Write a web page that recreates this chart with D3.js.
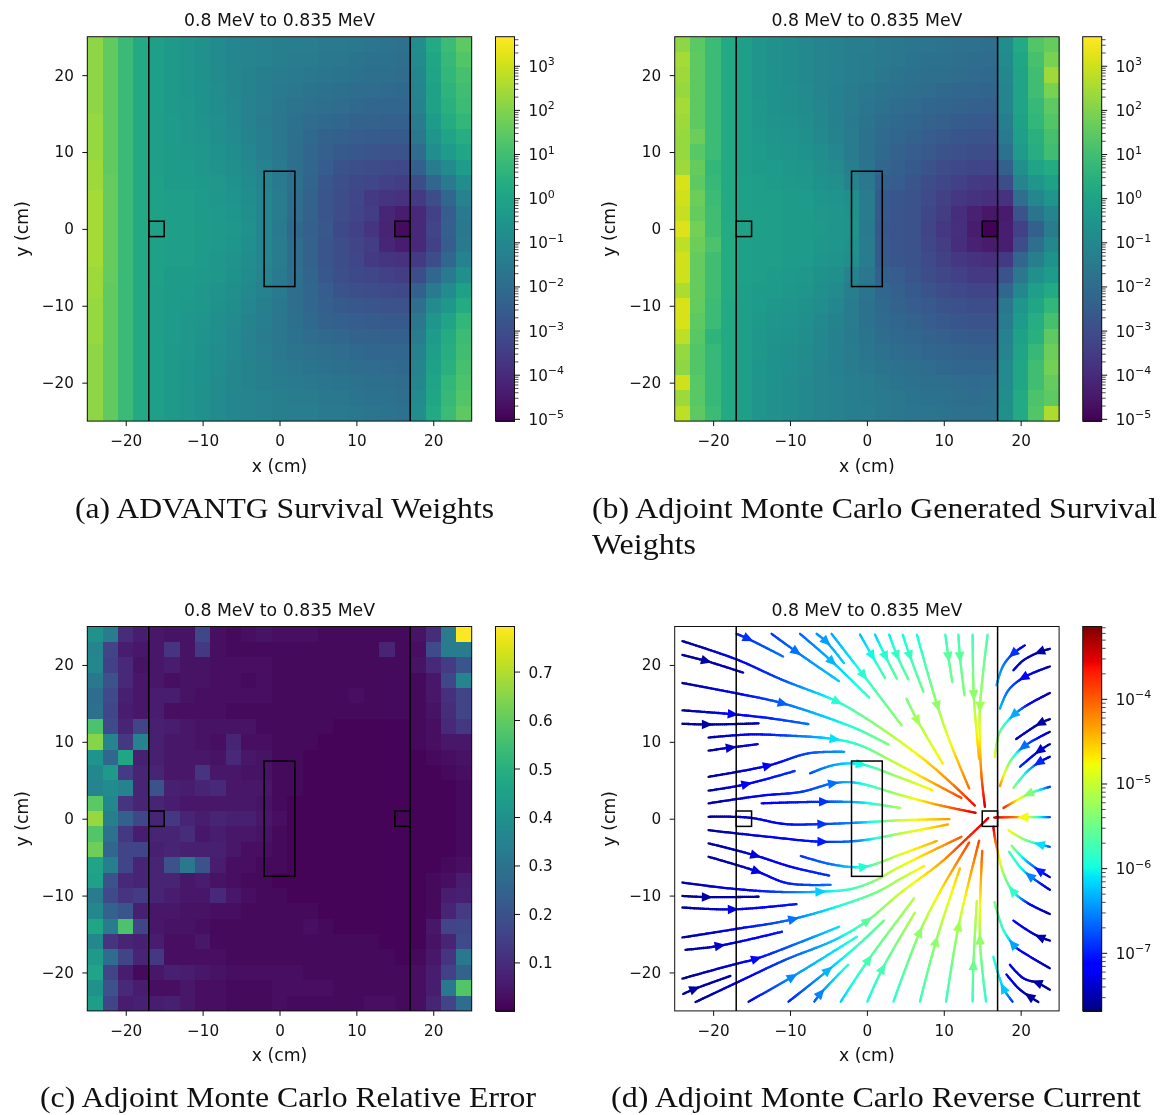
<!DOCTYPE html>
<html>
<head>
<meta charset="utf-8">
<script src="https://cdnjs.cloudflare.com/ajax/libs/d3/7.8.5/d3.min.js"></script>
<style>
  html, body { margin: 0; padding: 0; background: #fff; }
  svg { display: block; filter: blur(0.5px); }
  text { font-family: "DejaVu Sans", sans-serif; fill: #111; }
  .caption { font-family: "Liberation Serif", serif; font-size: 30px; fill: #111; }
</style>
</head>
<body>
<div id="chart"></div>
<script>
// log10 survival weight, rows run top (y=24) to bottom (y=-24), columns x=-24 to x=24
var survivalA = [
  [2.2,1.55,.85,.2,-.16,-.34,-.51,-.68,-.86,-1.03,-1.12,-1.2,-1.3,-1.38,-1.38,-1.47,-1.47,-1.56,-1.64,-1.73,-1.82,-.8,.2,.9,1.5],
  [2.2,1.55,.85,.2,-.16,-.34,-.51,-.68,-.86,-1.03,-1.12,-1.2,-1.3,-1.4,-1.45,-1.55,-1.6,-1.7,-1.75,-1.8,-1.9,-.9,.1,.8,1.3],
  [2.2,1.55,.85,.2,-.16,-.34,-.5,-.65,-.85,-1,-1.15,-1.3,-1.4,-1.5,-1.55,-1.65,-1.7,-1.8,-1.85,-1.9,-2,-1,0,.7,1.1],
  [2.2,1.55,.85,.2,-.16,-.34,-.45,-.65,-.8,-1,-1.15,-1.3,-1.5,-1.6,-1.7,-1.8,-1.85,-1.95,-2,-2.05,-2.1,-1.1,-.1,.6,1],
  [2.2,1.55,.85,.2,-.16,-.34,-.42,-.6,-.77,-.95,-1.2,-1.38,-1.56,-1.73,-1.82,-1.9,-2,-2.08,-2.17,-2.17,-2.17,-1.2,-.1,.5,.9],
  [2.3,1.55,.85,.2,-.16,-.3,-.4,-.55,-.75,-.95,-1.2,-1.4,-1.6,-1.8,-2,-2.1,-2.2,-2.3,-2.35,-2.4,-2.4,-1.4,-.3,.3,.7],
  [2.3,1.55,.85,.2,-.16,-.3,-.38,-.5,-.7,-.9,-1.15,-1.35,-1.6,-1.85,-2.1,-2.3,-2.4,-2.5,-2.55,-2.6,-2.6,-1.6,-.5,0,.4],
  [2.3,1.55,.85,.2,-.16,-.25,-.34,-.42,-.6,-.77,-1.03,-1.3,-1.56,-1.9,-2.17,-2.43,-2.6,-2.69,-2.78,-2.86,-2.86,-2,-.8,-.3,.1],
  [2.4,1.55,.85,.2,-.15,-.25,-.3,-.42,-.55,-.7,-.95,-1.2,-1.5,-1.9,-2.2,-2.5,-2.8,-2.95,-3.05,-3.1,-3.15,-2.4,-1.4,-.9,-.3],
  [2.4,1.6,.85,.2,-.07,-.25,-.25,-.34,-.42,-.6,-.86,-1.12,-1.47,-1.9,-2.25,-2.69,-2.95,-3.12,-3.2,-3.4,-3.48,-3,-2.2,-1.5,-.8],
  [2.5,1.6,.85,.2,-.07,-.2,-.2,-.3,-.4,-.55,-.8,-1.05,-1.45,-1.95,-2.3,-2.75,-3,-3.2,-3.6,-3.7,-3.8,-3.6,-3,-2.2,-1.2],
  [2.5,1.6,.85,.2,-.07,-.2,-.2,-.25,-.35,-.45,-.75,-1.05,-1.45,-2,-2.35,-2.75,-3.05,-3.3,-3.5,-4.1,-4.35,-4.05,-3.4,-2.5,-1.5],
  [2.5,1.6,.85,.2,-.07,-.16,-.16,-.25,-.34,-.42,-.68,-1.03,-1.47,-2.08,-2.43,-2.69,-3.12,-3.4,-3.73,-4.17,-4.78,-4.08,-3.3,-2.43,-1.56],
  [2.5,1.6,.85,.2,-.07,-.2,-.2,-.25,-.35,-.45,-.75,-1.05,-1.45,-2,-2.35,-2.75,-3.05,-3.3,-3.5,-4.1,-4.35,-4.05,-3.4,-2.5,-1.5],
  [2.5,1.6,.85,.2,-.07,-.2,-.2,-.3,-.4,-.55,-.8,-1.05,-1.45,-1.95,-2.3,-2.75,-3,-3.2,-3.6,-3.7,-3.8,-3.6,-3,-2.2,-1.2],
  [2.4,1.6,.85,.2,-.07,-.25,-.25,-.34,-.42,-.6,-.86,-1.12,-1.47,-1.9,-2.25,-2.69,-2.95,-3.12,-3.2,-3.4,-3.48,-3,-2.2,-1.5,-.7],
  [2.4,1.55,.85,.2,-.15,-.25,-.3,-.42,-.55,-.7,-.95,-1.2,-1.5,-1.9,-2.2,-2.5,-2.8,-2.95,-3.05,-3.1,-3.15,-2.4,-1.5,-.9,-.1],
  [2.3,1.55,.85,.2,-.16,-.25,-.34,-.42,-.6,-.77,-1.03,-1.3,-1.56,-1.9,-2.17,-2.43,-2.6,-2.69,-2.78,-2.86,-2.86,-1.9,-.9,-.4,.3],
  [2.3,1.55,.85,.2,-.16,-.3,-.38,-.5,-.7,-.9,-1.15,-1.35,-1.6,-1.85,-2.1,-2.3,-2.4,-2.5,-2.55,-2.6,-2.6,-1.6,-.5,0,.7],
  [2.3,1.55,.85,.2,-.16,-.3,-.4,-.55,-.75,-.95,-1.2,-1.4,-1.6,-1.8,-2,-2.1,-2.2,-2.3,-2.35,-2.4,-2.4,-1.4,-.3,.3,.9],
  [2.2,1.55,.85,.2,-.16,-.34,-.42,-.6,-.77,-.95,-1.2,-1.38,-1.56,-1.73,-1.82,-1.9,-2,-2.08,-2.17,-2.17,-2.17,-1.2,-.2,.4,1],
  [2.2,1.55,.85,.2,-.16,-.34,-.45,-.65,-.8,-1,-1.15,-1.3,-1.5,-1.6,-1.7,-1.8,-1.85,-1.95,-2,-2.05,-2.1,-1.1,-.1,.5,1.1],
  [2.2,1.55,.85,.2,-.16,-.34,-.5,-.65,-.85,-1,-1.15,-1.3,-1.4,-1.5,-1.55,-1.65,-1.7,-1.8,-1.85,-1.9,-2,-1,0,.7,1.2],
  [2.2,1.55,.85,.2,-.16,-.34,-.51,-.68,-.86,-1.03,-1.12,-1.2,-1.3,-1.4,-1.45,-1.55,-1.6,-1.7,-1.75,-1.8,-1.9,-.9,.1,.8,1.3],
  [2.2,1.55,.85,.2,-.16,-.34,-.51,-.68,-.86,-1.03,-1.12,-1.2,-1.3,-1.38,-1.38,-1.47,-1.47,-1.56,-1.64,-1.73,-1.82,-.8,.2,.9,1.5]
];

var survivalB = [
  [2.2,1.45,.9,.2,-.16,-.5,-.68,-.77,-.95,-1.12,-1.2,-1.3,-1.38,-1.47,-1.56,-1.64,-1.64,-1.73,-1.82,-1.82,-1.9,-.8,.2,1.3,1.6],
  [2.5,1.5,.9,.2,-.16,-.5,-.68,-.77,-.95,-1.12,-1.2,-1.3,-1.4,-1.5,-1.6,-1.7,-1.75,-1.8,-1.9,-1.95,-2,-.9,.1,1.1,1.9],
  [2.4,1.5,.9,.2,-.16,-.5,-.65,-.77,-.95,-1.1,-1.2,-1.35,-1.45,-1.6,-1.7,-1.8,-1.85,-1.9,-2,-2.05,-2.1,-1,0,1,2.4],
  [2.3,1.5,.9,.2,-.16,-.45,-.6,-.75,-.9,-1.1,-1.25,-1.4,-1.55,-1.7,-1.8,-1.9,-2,-2.1,-2.15,-2.2,-2.25,-1.1,0,1,1.9],
  [2.5,1.5,.9,.2,-.16,-.42,-.6,-.7,-.85,-1.05,-1.25,-1.45,-1.65,-1.8,-1.95,-2.05,-2.15,-2.25,-2.3,-2.4,-2.45,-1.1,0,.8,1.5],
  [2.4,1.5,.9,.2,-.16,-.4,-.55,-.65,-.8,-1,-1.25,-1.5,-1.7,-1.95,-2.1,-2.2,-2.35,-2.45,-2.55,-2.6,-2.65,-1.3,-.1,.7,1.3],
  [2.3,1.7,.9,.2,-.16,-.35,-.5,-.55,-.7,-.95,-1.15,-1.45,-1.75,-2.05,-2.2,-2.35,-2.5,-2.65,-2.7,-2.8,-2.85,-1.5,-.2,.5,1.1],
  [2.3,1.4,.9,.2,-.16,-.3,-.4,-.5,-.6,-.8,-1.05,-1.4,-1.75,-2.1,-2.3,-2.5,-2.65,-2.8,-2.9,-3,-3.05,-1.8,-.3,.4,1],
  [2.4,1.6,.7,.2,-.15,-.25,-.3,-.42,-.5,-.7,-.9,-1.3,-1.7,-2.2,-2.4,-2.6,-2.8,-3.05,-3.15,-3.25,-3.3,-2.4,-.7,0,.3],
  [3.15,1.5,.8,.2,-.1,-.2,-.25,-.34,-.4,-.6,-.7,-1.2,-1.6,-2.4,-2.5,-2.75,-3,-3.2,-3.4,-3.55,-3.65,-3,-1.1,-.5,-.1],
  [3.05,1.7,.9,.2,-.07,-.2,-.2,-.25,-.3,-.45,-.55,-.7,-1.45,-2.6,-2.7,-2.8,-3.1,-3.35,-3.65,-3.75,-3.85,-3.8,-1.9,-1,-.5],
  [2.9,1.6,1,.2,-.07,-.16,-.16,-.25,-.25,-.4,-.5,-.6,-1.45,-2.65,-2.75,-2.85,-3.2,-3.5,-3.9,-4.25,-4.5,-4.4,-2.8,-1.7,-1.1],
  [3.2,1.8,1,.3,-.07,-.16,-.16,-.25,-.25,-.34,-.51,-.55,-1.47,-2.69,-2.78,-2.86,-3.3,-3.65,-3.82,-4.35,-5,-4.3,-3.4,-2.4,-1.4],
  [2.8,1.7,1.2,.3,-.07,-.16,-.16,-.25,-.25,-.4,-.5,-.6,-1.45,-2.65,-2.75,-2.85,-3.2,-3.5,-3.9,-4.25,-4.4,-4.3,-3,-1.9,-1],
  [3.05,1.6,1,.3,-.07,-.2,-.2,-.25,-.3,-.45,-.55,-.7,-1.45,-2.6,-2.7,-2.8,-3.1,-3.35,-3.65,-3.75,-3.85,-3.6,-2.2,-1.3,-.6],
  [3,1.6,1,.3,-.1,-.2,-.25,-.34,-.4,-.6,-.7,-1.2,-1.6,-2.4,-2.5,-2.75,-3,-3.2,-3.4,-3.55,-3.6,-2.8,-1.6,-.7,-.3],
  [2.6,1.6,1,.3,-.15,-.25,-.3,-.42,-.5,-.7,-.9,-1.3,-1.7,-2.2,-2.4,-2.6,-2.8,-3.05,-3.15,-3.25,-3.3,-2.2,-1,-.2,.2],
  [3.15,1.6,.9,.2,-.16,-.3,-.4,-.5,-.6,-.8,-1.05,-1.4,-1.75,-2.1,-2.3,-2.5,-2.65,-2.8,-2.9,-3,-3,-1.6,-.5,.1,.7],
  [3.15,1.5,.9,.2,-.16,-.35,-.5,-.55,-.7,-.95,-1.15,-1.45,-1.75,-2.05,-2.2,-2.35,-2.5,-2.65,-2.7,-2.8,-2.8,-1.4,-.3,.4,1.1],
  [2.8,1.4,.6,.2,-.16,-.4,-.55,-.65,-.8,-1,-1.25,-1.5,-1.7,-1.95,-2.1,-2.2,-2.35,-2.45,-2.55,-2.6,-2.6,-1.2,-.1,.5,1.5],
  [2.3,1.3,.8,.2,-.16,-.42,-.6,-.7,-.85,-1.05,-1.25,-1.45,-1.65,-1.8,-1.95,-2.05,-2.15,-2.25,-2.3,-2.4,-2.4,-1.1,0,.8,1.7],
  [2.2,1.3,.8,.2,-.16,-.45,-.6,-.75,-.9,-1.1,-1.25,-1.4,-1.55,-1.7,-1.8,-1.9,-2,-2.1,-2.15,-2.2,-2.2,-.9,.1,1,1.8],
  [3.05,1.4,.8,.2,-.16,-.5,-.65,-.77,-.95,-1.1,-1.2,-1.35,-1.45,-1.6,-1.7,-1.8,-1.85,-1.9,-2,-2.05,-2,-.9,.1,1,1.6],
  [2.4,1.4,.8,.2,-.16,-.5,-.68,-.77,-.95,-1.12,-1.2,-1.3,-1.4,-1.5,-1.6,-1.7,-1.75,-1.8,-1.9,-1.95,-1.9,-.8,.2,1.2,1.5],
  [2.8,1.5,.9,.2,-.16,-.5,-.68,-.77,-.95,-1.12,-1.2,-1.3,-1.38,-1.47,-1.56,-1.64,-1.64,-1.73,-1.82,-1.82,-1.8,-.7,.2,1.3,2.6]
];

// relative error, same grid
var relError = [
  [.40,.33,.10,.06,.05,.04,.04,.17,.03,.02,.03,.04,.03,.03,.03,.02,.02,.02,.02,.02,.02,.04,.10,.33,.79],
  [.36,.16,.06,.05,.05,.12,.04,.13,.03,.02,.02,.02,.02,.02,.02,.02,.02,.02,.02,.08,.02,.03,.18,.33,.33],
  [.37,.15,.09,.04,.05,.06,.04,.04,.03,.03,.03,.03,.02,.02,.02,.02,.02,.02,.02,.02,.02,.04,.09,.14,.21],
  [.32,.20,.09,.05,.05,.03,.04,.04,.03,.03,.02,.03,.02,.02,.02,.02,.02,.02,.02,.02,.02,.02,.05,.17,.36],
  [.28,.18,.07,.05,.06,.06,.04,.03,.03,.03,.03,.03,.02,.02,.02,.02,.02,.03,.02,.02,.02,.02,.05,.11,.16],
  [.29,.17,.06,.05,.06,.03,.03,.03,.03,.02,.02,.02,.02,.02,.02,.02,.02,.02,.02,.02,.02,.02,.04,.10,.16],
  [.57,.18,.08,.16,.07,.06,.05,.04,.04,.04,.04,.02,.02,.02,.02,.02,.01,.01,.01,.01,.01,.02,.03,.09,.13],
  [.65,.36,.13,.35,.07,.05,.05,.04,.03,.08,.03,.03,.02,.02,.02,.01,.01,.01,.01,.01,.01,.02,.03,.05,.05],
  [.41,.26,.47,.07,.07,.05,.05,.05,.04,.09,.05,.04,.02,.02,.01,.01,.01,.01,.01,.01,.01,.01,.02,.03,.04],
  [.37,.43,.14,.08,.08,.05,.05,.12,.05,.05,.04,.04,.02,.02,.01,.01,.01,.01,.01,.01,.01,.01,.01,.02,.03],
  [.36,.38,.35,.08,.20,.07,.06,.08,.09,.05,.05,.05,.02,.02,.01,.01,.01,.01,.01,.01,.01,.01,.01,.01,.02],
  [.59,.37,.12,.08,.08,.06,.05,.05,.05,.05,.05,.04,.02,.01,.01,.01,.01,.01,.01,.01,.01,.01,.01,.01,.02],
  [.67,.34,.24,.17,.08,.13,.08,.06,.08,.07,.07,.05,.03,.01,.01,.01,.01,.01,.01,.01,.01,.01,.01,.01,.02],
  [.58,.30,.13,.06,.08,.08,.10,.05,.06,.05,.05,.04,.02,.01,.01,.01,.01,.01,.01,.01,.01,.01,.01,.01,.02],
  [.62,.26,.16,.16,.07,.08,.07,.07,.07,.05,.03,.03,.02,.01,.01,.01,.01,.01,.01,.01,.01,.01,.01,.01,.02],
  [.46,.34,.16,.08,.08,.20,.32,.20,.06,.03,.03,.02,.02,.01,.01,.01,.01,.01,.01,.01,.01,.01,.01,.02,.03],
  [.45,.20,.09,.08,.08,.08,.05,.06,.04,.03,.02,.02,.01,.01,.01,.01,.01,.01,.01,.01,.01,.01,.02,.03,.06],
  [.33,.18,.12,.14,.08,.06,.05,.05,.09,.05,.03,.02,.02,.01,.01,.01,.01,.01,.01,.01,.01,.01,.02,.06,.07],
  [.37,.25,.21,.07,.05,.05,.04,.04,.03,.03,.02,.02,.02,.02,.02,.01,.01,.01,.01,.01,.01,.01,.02,.08,.14],
  [.47,.33,.57,.16,.05,.04,.04,.03,.02,.02,.02,.02,.02,.02,.03,.02,.01,.01,.01,.01,.01,.01,.05,.16,.17],
  [.37,.12,.08,.07,.06,.03,.03,.05,.02,.02,.02,.02,.02,.02,.02,.02,.02,.02,.02,.01,.01,.01,.04,.08,.18],
  [.43,.28,.16,.08,.13,.03,.03,.03,.03,.02,.02,.02,.02,.02,.02,.02,.02,.02,.02,.02,.01,.02,.05,.12,.32],
  [.46,.16,.06,.02,.05,.07,.06,.05,.04,.03,.03,.03,.03,.03,.02,.02,.02,.02,.02,.02,.02,.03,.06,.15,.25],
  [.40,.20,.09,.06,.03,.03,.05,.03,.03,.02,.02,.02,.03,.03,.03,.03,.02,.02,.02,.02,.02,.03,.06,.32,.58],
  [.44,.16,.06,.07,.06,.07,.05,.03,.03,.02,.02,.02,.03,.02,.02,.02,.02,.02,.03,.03,.02,.03,.08,.16,.28]
];

// reverse current stream lines, each point is [x, y, log10 magnitude]
var streamLines = [
  [[-24,23.1,-7.6],[-16.9,20.7,-7.2],[-11.1,18.1,-6.8],[-4,15.3,-5.9],[-.9,13.55,-5.6],[3.45,10.65,-5.1],[7.8,7.4,-4.6],[11,4.6,-4.2],[14.05,1.7,-3.6]],
  [[-24,21.3,-7.6],[-20.85,20.5,-7.55],[-16.1,19,-7.4]],
  [[-24,17.65,-7.6],[-17.15,16.35,-7.2],[-11.1,15.05,-6.7],[-4.2,12.8,-6.1],[-.9,11.5,-5.8],[2.8,9.65,-5.4]],
  [[-24,14.1,-7.6],[-17.6,13.6,-7.2],[-12.85,13.1,-7],[-7.6,12.3,-6.6]],
  [[-24,12.35,-7.6],[-20.85,12.25,-7.55],[-14.1,12.4,-7.5]],
  [[-20.6,10.55,-7.55],[-15.4,10.95,-7.2],[-11.1,10.85,-6.9],[-4.2,10.35,-6.1],[-.9,9.55,-5.8],[3.45,7.4,-5.1],[7.95,5,-4.5],[12.3,2.7,-3.9]],
  [[-20.6,8.85,-7.6],[-17.8,9.25,-7.4],[-14.2,9.7,-7.3]],
  [[-20.6,5.45,-7.6],[-12.85,6.9,-7.2],[-7.6,8.5,-6.8],[-2.95,8.7,-6.4]],
  [[-20.6,3.65,-7.6],[-15.85,4.45,-7.2],[-9.4,6.2,-6.9]],
  [[-7.4,5.9,-6.8],[-4.2,7,-6.4],[-.9,7.1,-6],[4.05,5.45,-5.2],[8.55,3.7,-4.7]],
  [[-20.6,2,-7.6],[-13.7,3,-7.2],[-8.5,3.5,-6.9],[-4.4,4.6,-6.6],[-1.6,4.7,-6.2],[4.5,3.05,-5.1],[8.8,1.9,-4.4],[14.15,.77,-3.5]],
  [[-13.7,2,-7.2],[-5.7,2.2,-6.9],[-.7,2.1,-6.2],[4.3,1.4,-5.2]],
  [[-20.6,.25,-7.6],[-15.4,.15,-7.4],[-10.65,-.7,-7.1],[-5.9,-.7,-6.9],[-.9,-.5,-6.4],[4.5,-.2,-5],[10.75,-.05,-4.3]],
  [[-20.6,-1.5,-7.6],[-12.85,-2.35,-7.2],[-5.9,-3,-7],[-.9,-2.85,-6.5],[4.5,-1.9,-5.1],[10.55,-.75,-4.35]],
  [[-20.6,-3.2,-7.6],[-14.45,-4.8,-7.3],[-9.9,-6.25,-7.1],[-4.9,-7.4,-6.9]],
  [[-20.6,-4.95,-7.6],[-14.45,-6.8,-7.3],[-10.3,-8.4,-7],[-4.7,-8.6,-6.6]],
  [[-8.6,-4.85,-6.9],[-4.25,-6,-6.6],[-.35,-6.25,-5.9],[4.5,-4.6,-4.9],[9.1,-2.9,-4.4]],
  [[-24,-8.3,-7.6],[-18.55,-9,-7.3],[-12.05,-9.5,-6.9],[-6.2,-9.5,-6.2],[-2.1,-9.15,-5.8],[.95,-8.1,-5.4],[3.45,-6.7,-5],[6.5,-5.15,-4.7],[12.3,-2.35,-4]],
  [[-24,-10.05,-7.6],[-20.85,-10.2,-7.55],[-14.1,-10.15,-7.5]],
  [[-24,-11.55,-7.6],[-17.4,-11.8,-7.3],[-9.15,-11.1,-7]],
  [[-23.6,-17.05,-7.6],[-19.3,-16.55,-7.4],[-11.05,-14.7,-7]],
  [[-24,-15.45,-7.6],[-17.1,-14.35,-7.2],[-9.55,-13.05,-6.6],[.95,-9.7,-5.5],[4.5,-7.75,-5.1],[7.45,-6.15,-4.7]],
  [[-24,-20.8,-7.6],[-17.1,-18.9,-7.3],[-14.5,-18.25,-7.1],[-8.5,-16,-6.6],[-3.6,-14.05,-6.1]],
  [[-23.9,-22.8,-7.6],[-22.55,-22.2,-7.55],[-17.75,-20.45,-7.5]],
  [[-22.3,-23.85,-7.6],[-17.1,-21.4,-7.3],[-10.6,-18.35,-6.8],[-4.15,-15.75,-6.2],[0,-13.3,-5.6],[4.3,-9.7,-5],[9.5,-5.8,-4.4],[12.55,-3,-3.8],[15.8,.1,-3.5]],
  [[-15.4,-23.8,-7.2],[-9.85,-20.65,-6.5],[-1.3,-15.35,-5.9]],
  [[-10.2,-23.8,-7],[-5.1,-19.75,-6.3],[-.9,-16.2,-5.8],[2.2,-13.25,-5.5]],
  [[-6.85,-23.8,-6.8],[-6,-22.7,-6.5],[-2.45,-19,-5.9]],
  [[-3.4,-23.8,-6.2],[.2,-18.35,-5.7],[6.15,-10.35,-5.1]],
  [[.05,-23.8,-6],[2.05,-19.45,-5.7],[6.25,-12.2,-5.1]],
  [[3.45,-23.8,-5.9],[6.9,-14.7,-5.3],[9.5,-9.5,-4.7],[13.3,-3.1,-3.9]],
  [[6.9,-23.8,-5.8],[9,-15.9,-5.3],[12.1,-6.45,-4.5]],
  [[10.3,-23.8,-5.8],[11.9,-14.1,-5.2],[14.6,-2.85,-3.9]],
  [[13.75,-23.8,-5.8],[13.85,-19,-5.5],[14.3,-10.7,-5]],
  [[15.5,-23.8,-5.9],[14.7,-15.8,-5.3],[15,-4.2,-4]],
  [[23.8,-12.4,-7.6],[20.8,-10.9,-7.1],[18.95,-9.4,-5.8],[17.75,-7.1,-5.3],[17.1,-4.7,-4.7],[16.65,-2.55,-4],[16.45,-1.05,-3.5]],
  [[23.8,-19.45,-7.6],[19.5,-16.85,-7.1],[19.05,-16.4,-6.4],[17.75,-14.45,-5.9],[16.6,-10.85,-5.4]],
  [[18.95,-23.8,-7],[17.75,-22.05,-6.2],[16.45,-17.95,-5.9]],
  [[23.8,-15.85,-7.6],[22.5,-15.4,-7.5],[20.8,-14.45,-7.3],[19.05,-13.25,-7.1]],
  [[23.8,-22.25,-7.6],[22.3,-21.4,-7.55],[20.35,-20.75,-7.4],[18.6,-19,-7.2]],
  [[22.3,-23.85,-7.6],[21.2,-23.15,-7.55],[19.7,-22.05,-7.4],[18.15,-20.25,-7.2]],
  [[23.8,-9.25,-7.6],[21.2,-7.45,-6.5],[19.9,-6.25,-6],[18.5,-4.3,-5.7]],
  [[23.8,-7.6,-7.6],[22.5,-6.8,-7],[20.35,-5.15,-6.2],[18.8,-3.5,-5.4]],
  [[23.8,-3.65,-6.9],[22.5,-3.35,-6.1],[20.35,-2.65,-5.4],[18.4,-1.5,-4.8]],
  [[23.8,.2,-6.9],[22.2,.2,-6],[20.5,.2,-4.8],[19,.2,-4.1],[16.55,.15,-3.5]],
  [[20.55,22.55,-7.4],[19.05,21.5,-6.9],[17.75,19.95,-6.6],[16.85,17.35,-6.2]],
  [[23.8,22.1,-7.6],[22.5,21.7,-7.55],[20.35,20.6,-7.4],[19.05,19.3,-7.3]],
  [[23.8,19.8,-7.6],[20.35,18.35,-7.1],[18.4,16.7,-6.7],[17.3,14.3,-6.3]],
  [[23.8,16.35,-7.6],[20.8,14.75,-7.1],[19.05,13.45,-6.3],[17.3,11.3,-5.6],[16.65,8.05,-4.9]],
  [[23.8,12.95,-7.6],[22.5,12.4,-7.55],[19.4,10.35,-7.4]],
  [[23.8,11.3,-7.6],[20.35,9.35,-6.6],[18.6,7.4,-5.5],[17.3,4.25,-4.3]],
  [[23.8,9.7,-7.6],[22.5,8.9,-7.4],[19.9,6.75,-6.9]],
  [[23.8,8.05,-7.6],[22.5,7.4,-7],[20.8,6.1,-6.2],[19.05,4,-5.4]],
  [[23.8,4.15,-7],[21.2,3.3,-5.4],[19.5,2.4,-4.8],[17.75,1.4,-3.8]],
  [[10.2,23.95,-5.8],[10.6,21.05,-5.6],[11.1,17.8,-5.5]],
  [[11.9,23.95,-5.8],[12.1,21.05,-5.6],[12.7,16.05,-5.4]],
  [[13.75,23.95,-5.8],[13.9,16.05,-5.3],[14.6,7.8,-4.4]],
  [[15.7,23.95,-5.7],[14.7,14.55,-5.2],[14.7,10,-4.7],[14.9,5.65,-4.1],[15.35,1.55,-3.5]],
  [[6.5,23.95,-6],[9.15,14.75,-5.3],[10.8,10,-4.8],[13.3,3.95,-4.1]],
  [[5.15,15.6,-5.5],[6.5,12.9,-5.2],[9.85,7.2,-4.7]],
  [[-4.6,24.05,-6.4],[-.5,18.75,-5.9],[4.5,12.15,-5.3]],
  [[-.9,23.95,-6.3],[.65,21.25,-6],[2.35,18.3,-5.7]],
  [[1.05,23.95,-6.2],[2.35,21.25,-5.9],[3.9,18.2,-5.6]],
  [[2.9,23.95,-6.1],[3.95,21.15,-5.8],[5.4,18.1,-5.6]],
  [[4.65,23.95,-6],[5.6,21.15,-5.8],[7.35,16.5,-5.5]],
  [[-16.95,24.05,-7],[-15.45,23.4,-6.9],[-10.9,21.1,-6.6]],
  [[-12.4,24.05,-6.9],[-9.15,21.7,-6.6],[-3.65,17.9,-6.2]],
  [[-8.7,24.05,-6.7],[-4.6,20.5,-6.3],[.3,15.75,-5.8]],
  [[-6.55,24.05,-6.5],[-5.25,23,-6.4],[-3,20.25,-6.2]]
];

// arrow head location on each stream line, same order
var streamArrows = [
  [-4,15.3],[-20.85,20.5],[-11.1,15.05],[-17.6,13.6],[-20.85,12.25],[-4.2,10.35],[-17.8,9.25],[-12.85,6.9],[-15.85,4.45],[-.9,7.1],
  [-4.4,4.6],[-5.7,2.2],[-5.9,-.7],[-5.9,-3],[-14.45,-4.8],[-14.45,-6.8],[-.35,-6.25],[-6.2,-9.5],[-20.85,-10.2],[-17.4,-11.8],
  [-19.3,-16.55],[-9.55,-13.05],[-14.5,-18.25],[-22.55,-22.2],[0,-13.3],[-9.85,-20.65],[-5.1,-19.75],[-6,-22.7],[.2,-18.35],[2.05,-19.45],
  [6.9,-14.7],[9,-15.9],[11.9,-14.1],[13.85,-19],[14.7,-15.8],[18.95,-9.4],[19.05,-16.4],[17.75,-22.05],[22.5,-15.4],[22.3,-21.4],
  [21.2,-23.15],[21.2,-7.45],[22.5,-6.8],[22.5,-3.35],[20.5,.2],[19.05,21.5],[22.5,21.7],[20.35,18.35],[19.05,13.45],[22.5,12.4],
  [20.35,9.35],[22.5,8.9],[22.5,7.4],[21.2,3.3],[10.6,21.05],[12.1,21.05],[13.9,16.05],[14.7,14.55],[9.15,14.75],[6.5,12.9],
  [-.5,18.75],[.65,21.25],[2.35,21.25],[3.95,21.15],[5.6,21.15],[-15.45,23.4],[-9.15,21.7],[-4.6,20.5],[-5.25,23]
];

var axisTicks = [-20, -10, 0, 10, 20];
var logTicksA = [-5, -4, -3, -2, -1, 0, 1, 2, 3];
var logTicksD = [-7, -6, -5, -4];
var errorTicks = [.1, .2, .3, .4, .5, .6, .7];
var logDomainA = [-5.04, 3.67];
var logDomainD = [-7.68, -3.14];
var errorDomain = [.001, .794];
var gridCenters = d3.range(-24, 25, 2);

var wallXs = [-17, 17];
var detectorBoxes = [[-17, -1, 2, 2], [15, -1, 2, 2], [-2, -7.5, 4, 15]];

var titleText = "0.8 MeV to 0.835 MeV";
var captions = [
  {t: "(a) ADVANTG Survival Weights", x: 75, y: 518, w: 419},
  {t: "(b) Adjoint Monte Carlo Generated Survival", x: 592, y: 518, w: 565},
  {t: "Weights", x: 592, y: 554, w: 104},
  {t: "(c) Adjoint Monte Carlo Relative Error", x: 40, y: 1107, w: 496},
  {t: "(d) Adjoint Monte Carlo Reverse Current", x: 611, y: 1107, w: 530}
];

var size = 384.4;
var tickFont = "15.2px", labelFont = "17.3px";
var svg = d3.select("#chart").append("svg").attr("width", 1163).attr("height", 1115);

var x = d3.scaleLinear().domain([-25, 25]).range([0, size]);
var y = d3.scaleLinear().domain([-25, 25]).range([size, 0]);

// matplotlib jet
var jetR = d3.scaleLinear().domain([0, .35, .66, .89, 1]).range([0, 0, 1, 1, .5]).clamp(true);
var jetG = d3.scaleLinear().domain([0, .125, .375, .64, .91, 1]).range([0, 0, 1, 1, 0, 0]).clamp(true);
var jetB = d3.scaleLinear().domain([0, .11, .34, .65, 1]).range([.5, 1, 1, 0, 0]).clamp(true);
function jet(t) {
  return d3.rgb(jetR(t) * 255, jetG(t) * 255, jetB(t) * 255).formatRgb();
}

var colorA = d3.scaleSequential(d3.interpolateViridis).domain(logDomainA);
var colorC = d3.scaleSequential(d3.interpolateViridis).domain(errorDomain);
var colorD = d3.scaleSequential(jet).domain(logDomainD);

function makePanel(left, top) {
  return svg.append("g").attr("transform", "translate(" + left + "," + top + ")");
}

function drawHeat(g, rows, color) {
  var cell = x(2) - x(0);
  rows.forEach(function(row, r) {
    g.selectAll(null).data(row).enter().append("rect")
      .attr("x", function(d, i) { return x(gridCenters[i] - 1); })
      .attr("y", y(gridCenters[24 - r] + 1))
      .attr("width", cell + .4)
      .attr("height", cell + .4)
      .attr("fill", function(d) { return color(d); })
      .attr("shape-rendering", "crispEdges");
  });
}

function drawGeometry(g) {
  g.selectAll(null).data(wallXs).enter().append("line")
    .attr("x1", function(d) { return x(d); }).attr("x2", function(d) { return x(d); })
    .attr("y1", y(-25)).attr("y2", y(25))
    .attr("stroke", "#000").attr("stroke-width", 1.5);
  g.selectAll(null).data(detectorBoxes).enter().append("rect")
    .attr("x", function(d) { return x(d[0]); })
    .attr("y", function(d) { return y(d[1] + d[3]); })
    .attr("width", function(d) { return x(d[2]) - x(0); })
    .attr("height", function(d) { return y(0) - y(d[3]); })
    .attr("fill", "none")
    .attr("stroke", "#000")
    .attr("stroke-width", 1.5);
}

function drawAxes(g) {
  var xAxis = d3.axisBottom(x).tickValues(axisTicks).tickSize(5).tickPadding(9);
  var yAxis = d3.axisLeft(y).tickValues(axisTicks).tickSize(5).tickPadding(8.5);
  var gx = g.append("g").attr("transform", "translate(0," + size + ")").call(xAxis);
  var gy = g.append("g").call(yAxis);
  [gx, gy].forEach(function(a) {
    a.select(".domain").remove();
    a.selectAll("text").style("font-size", tickFont).style("font-family", '"DejaVu Sans"');
    a.selectAll("line").attr("stroke", "#111").attr("stroke-width", 1);
  });
  g.append("rect").attr("width", size).attr("height", size)
    .attr("fill", "none").attr("stroke", "#111").attr("stroke-width", 1);
  g.append("text").attr("x", size / 2).attr("y", -11).attr("text-anchor", "middle")
    .style("font-size", labelFont).text(titleText);
  g.append("text").attr("x", size / 2).attr("y", size + 50.5).attr("text-anchor", "middle")
    .style("font-size", labelFont).text("x (cm)");
  g.append("text").attr("transform", "translate(-59.5," + (size / 2) + ") rotate(-90)")
    .attr("text-anchor", "middle").style("font-size", labelFont).text("y (cm)");
}

function drawColorbar(left, top, domain, color, ticks, minor, labelFn) {
  var bar = svg.append("g").attr("transform", "translate(" + left + "," + top + ")");
  var barW = 19;
  var scale = d3.scaleLinear().domain(domain).range([size, 0]);
  bar.selectAll(null).data(d3.range(0, Math.ceil(size))).enter().append("rect")
    .attr("x", 0).attr("y", function(d) { return d; })
    .attr("width", barW).attr("height", 1.2)
    .attr("fill", function(d) { return color(scale.invert(d + .5)); })
    .attr("shape-rendering", "crispEdges");
  bar.selectAll(null).data(minor).enter().append("line")
    .attr("x1", barW).attr("x2", barW + 4)
    .attr("y1", function(d) { return scale(d); }).attr("y2", function(d) { return scale(d); })
    .attr("stroke", "#222").attr("stroke-width", .8);
  bar.selectAll(null).data(ticks).enter().append("line")
    .attr("x1", barW).attr("x2", barW + 5.5)
    .attr("y1", function(d) { return scale(d); }).attr("y2", function(d) { return scale(d); })
    .attr("stroke", "#111").attr("stroke-width", 1);
  ticks.forEach(function(d) {
    var lab = bar.append("text").attr("x", barW + 14).attr("y", scale(d) + 5.5)
      .style("font-size", tickFont);
    labelFn(lab, d);
  });
  bar.append("rect").attr("width", barW).attr("height", size)
    .attr("fill", "none").attr("stroke", "#111").attr("stroke-width", 1);
}

function logLabel(lab, d) {
  lab.append("tspan").text("10");
  lab.append("tspan").attr("dy", -6.5).style("font-size", "11px")
    .text(d < 0 ? "\u2212" + Math.abs(d) : d);
}

function minorLogs(domain) {
  var out = [];
  d3.range(Math.floor(domain[0]), Math.ceil(domain[1])).forEach(function(dec) {
    d3.range(2, 10).forEach(function(k) {
      var v = dec + Math.log10(k);
      if (v >= domain[0] && v <= domain[1]) out.push(v);
    });
  });
  return out;
}

function drawStreams(g) {
  var pathGen = d3.line().x(function(p) { return x(p[0]); }).y(function(p) { return y(p[1]); })
    .curve(d3.curveCatmullRom.alpha(.5));
  var probe = svg.append("path").attr("fill", "none").attr("stroke", "none");
  streamLines.forEach(function(line, n) {
    probe.attr("d", pathGen(line));
    var node = probe.node();
    var total = node.getTotalLength();
    var chord = [0];
    for (var i = 1; i < line.length; i++) {
      var dx = x(line[i][0]) - x(line[i - 1][0]);
      var dy = y(line[i][1]) - y(line[i - 1][1]);
      chord.push(chord[i - 1] + Math.sqrt(dx * dx + dy * dy));
    }
    var magAt = d3.scaleLinear()
      .domain(chord.map(function(c) { return c / chord[chord.length - 1] * total; }))
      .range(line.map(function(p) { return p[2]; }));
    var samples = d3.range(0, total, 2).concat([total]).map(function(s) {
      var pt = node.getPointAtLength(s);
      return {x: pt.x, y: pt.y, m: magAt(s)};
    });
    for (var k = 1; k < samples.length; k++) {
      g.append("line")
        .attr("x1", samples[k - 1].x).attr("y1", samples[k - 1].y)
        .attr("x2", samples[k].x).attr("y2", samples[k].y)
        .attr("stroke", colorD(samples[k].m))
        .attr("stroke-width", 2.3)
        .attr("stroke-linecap", "round");
    }
    // arrow head, pointing along the line
    var ax = x(streamArrows[n][0]), ay = y(streamArrows[n][1]);
    var idx = d3.leastIndex(samples, function(a, b) {
      return d3.ascending(Math.hypot(a.x - ax, a.y - ay), Math.hypot(b.x - ax, b.y - ay));
    });
    var s0 = samples[Math.max(idx - 2, 0)], s1 = samples[Math.min(idx + 2, samples.length - 1)];
    var ang = Math.atan2(s1.y - s0.y, s1.x - s0.x);
    var c = Math.cos(ang), sn = Math.sin(ang), tipX = samples[idx].x, tipY = samples[idx].y;
    var head = d3.path();
    head.moveTo(tipX + 6.5 * c, tipY + 6.5 * sn);
    head.lineTo(tipX - 4.5 * c + 4.8 * sn, tipY - 4.5 * sn - 4.8 * c);
    head.lineTo(tipX - 4.5 * c - 4.8 * sn, tipY - 4.5 * sn + 4.8 * c);
    head.closePath();
    g.append("path").attr("d", head.toString()).attr("fill", colorD(samples[idx].m));
  });
  probe.remove();
}

var panelA = makePanel(87.3, 36.7);
drawHeat(panelA, survivalA, colorA);
drawGeometry(panelA);
drawAxes(panelA);
drawColorbar(495.5, 36.7, logDomainA, colorA, logTicksA, minorLogs(logDomainA), logLabel);

var panelB = makePanel(674.7, 36.7);
drawHeat(panelB, survivalB, colorA);
drawGeometry(panelB);
drawAxes(panelB);
drawColorbar(1082.7, 36.7, logDomainA, colorA, logTicksA, minorLogs(logDomainA), logLabel);

var panelC = makePanel(87.3, 626.5);
drawHeat(panelC, relError, colorC);
drawGeometry(panelC);
drawAxes(panelC);
drawColorbar(495.5, 626.5, errorDomain, colorC, errorTicks, [], function(lab, d) { lab.text(d3.format(".1f")(d)); });

var panelD = makePanel(674.7, 626.5);
drawStreams(panelD);
drawGeometry(panelD);
drawAxes(panelD);
drawColorbar(1082.7, 626.5, logDomainD, colorD, logTicksD, minorLogs(logDomainD), logLabel);

svg.selectAll(null).data(captions).enter().append("text")
  .attr("class", "caption")
  .attr("x", function(d) { return d.x; })
  .attr("y", function(d) { return d.y; })
  .attr("textLength", function(d) { return d.w; })
  .attr("lengthAdjust", "spacingAndGlyphs")
  .text(function(d) { return d.t; });
</script>
</body>
</html>
